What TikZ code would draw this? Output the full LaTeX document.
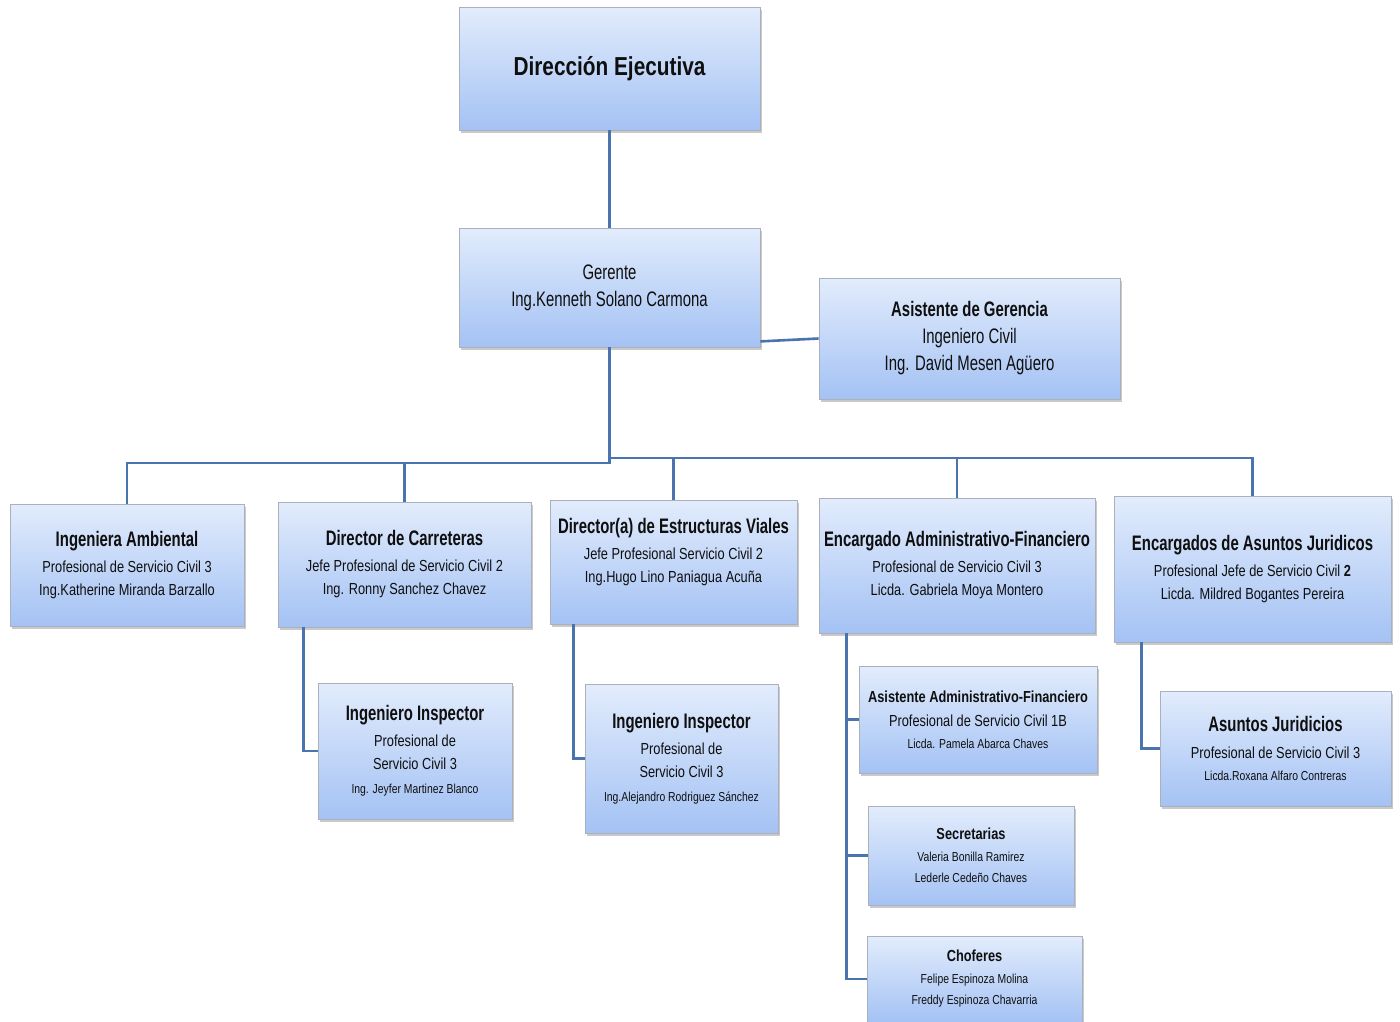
\documentclass[tikz,border=0pt]{standalone}
\usepackage{fontspec}
\setmainfont{Liberation Sans}[FakeStretch=0.8]
\newfontfamily\OTcondA{Liberation Sans}[FakeStretch=0.71]
\newfontfamily\OTcondB{Liberation Sans}[FakeStretch=0.8]
\usetikzlibrary{shadows,calc}
\definecolor{conncol}{RGB}{74,116,172}
\definecolor{boxtop}{RGB}{226,236,252}
\definecolor{boxbot}{RGB}{164,194,244}
\definecolor{boxline}{RGB}{170,176,188}
\definecolor{txtcol}{RGB}{15,15,15}
\newcommand{\OTtitle}[1]{{\OTcondA\fontsize{21}{23}\selectfont\bfseries #1}}
\newcommand{\OTsmalltitle}[1]{{\OTcondB\fontsize{16}{23}\selectfont\bfseries #1}}
\newcommand{\OTbig}[1]{{\OTcondA\fontsize{21}{23}\selectfont #1}}
\newcommand{\OTsub}[1]{{\OTcondB\fontsize{16}{23}\selectfont #1}}
\newcommand{\OTname}[1]{{\OTcondB\fontsize{13}{23}\selectfont #1}}
\tikzset{
  orgbox/.style={rectangle, inner sep=0pt, top color=boxtop, bottom color=boxbot,
    draw=boxline, line width=0.8pt, align=center, text=txtcol,
    font=\fontsize{16}{23}\selectfont,
    drop shadow={shadow xshift=2pt, shadow yshift=-3pt, opacity=0.35, fill=black!60}},
  conn/.style={draw=conncol, line width=2.6pt}
}
\begin{document}
\begin{tikzpicture}[x=1pt,y=-1pt]
\useasboundingbox (0,0) rectangle (1400,1021);
\fill[white] (0,0) rectangle (1400,1021);

\node[orgbox, minimum width=301pt, minimum height=123pt] (dir) at (609.5,68.5)
  {{\fontsize{26}{30}\selectfont\bfseries Dirección Ejecutiva}};
\node[orgbox, minimum width=301pt, minimum height=119pt] (ger) at (609.5,287.5)
  {\OTbig{Gerente}\\[4pt]\OTbig{Ing.Kenneth Solano Carmona}};
\node[orgbox, minimum width=301pt, minimum height=121pt] (asg) at (969.5,338.5)
  {\OTtitle{Asistente de Gerencia}\\[4pt]\OTbig{Ingeniero Civil}\\[4pt]\OTbig{Ing. David Mesen Agüero}};

\node[orgbox, minimum width=234pt, minimum height=122pt] (amb) at (127,565)
  {\OTtitle{Ingeniera Ambiental}\\[3pt]\OTsub{Profesional de Servicio Civil 3}\\\OTsub{Ing.Katherine Miranda Barzallo}};
\node[orgbox, minimum width=253pt, minimum height=125pt] (car) at (404.5,564.5)
  {\OTtitle{Director de Carreteras}\\[3pt]\OTsub{Jefe Profesional de Servicio Civil 2}\\\OTsub{Ing. Ronny Sanchez Chavez}};
\node[orgbox, minimum width=247pt, minimum height=124pt] (est) at (673.5,562)
  {\OTtitle{Director(a) de Estructuras Viales}\\[3pt]\OTsub{Jefe Profesional Servicio Civil 2}\\\OTsub{Ing.Hugo Lino Paniagua Acuña}\\[0pt]\rule{0pt}{14pt}};
\node[orgbox, minimum width=276pt, minimum height=135pt] (enc) at (957,565.5)
  {\OTtitle{Encargado Administrativo-Financiero}\\[3pt]\OTsub{Profesional de Servicio Civil 3}\\\OTsub{Licda. Gabriela Moya Montero}};
\node[orgbox, minimum width=277pt, minimum height=146pt] (jur) at (1252.5,569)
  {\OTtitle{Encargados de Asuntos Juridicos}\\[3pt]\OTsub{Profesional Jefe de Servicio Civil \textbf{2}}\\\OTsub{Licda. Mildred Bogantes Pereira}};

\node[orgbox, minimum width=194pt, minimum height=136pt] (in1) at (415,751)
  {\OTtitle{Ingeniero Inspector}\\[3pt]\OTsub{Profesional de}\\\OTsub{Servicio Civil 3}\\[1pt]\OTname{Ing. Jeyfer Martinez Blanco}};
\node[orgbox, minimum width=193pt, minimum height=149pt] (in2) at (681.5,758.5)
  {\OTtitle{Ingeniero Inspector}\\[3pt]\OTsub{Profesional de}\\\OTsub{Servicio Civil 3}\\[1pt]\OTname{Ing.Alejandro Rodriguez Sánchez}};
\node[orgbox, minimum width=238pt, minimum height=107pt] (asa) at (978,719.5)
  {\OTsmalltitle{Asistente Administrativo-Financiero}\\[1pt]\OTsub{Profesional de Servicio Civil 1B}\\[-1pt]\OTname{Licda. Pamela Abarca Chaves}};
\node[orgbox, minimum width=231pt, minimum height=115pt] (aj) at (1275.5,748.5)
  {\OTtitle{Asuntos Juridicios}\\[4pt]\OTsub{Profesional de Servicio Civil 3}\\[-1pt]\OTname{Licda.Roxana Alfaro Contreras}};
\node[orgbox, minimum width=206pt, minimum height=99pt] (sec) at (971,855.5)
  {\OTsmalltitle{Secretarias}\\[-1pt]\OTname{Valeria Bonilla Ramirez}\\[-2pt]\OTname{Lederle Cedeño Chaves}};
\node[orgbox, minimum width=215pt, minimum height=86pt] (cho) at (974.5,979)
  {\OTsmalltitle{Choferes}\\[-1pt]\OTname{Felipe Espinoza Molina}\\[-2pt]\OTname{Freddy Espinoza Chavarria}};

% connectors
\draw[conn] (dir.south) -- (ger.north);
\draw[conn] ($(ger.south east)+(0,-6)$) -- (asg.west);
\coordinate (hl) at (0,463);
\coordinate (hr) at (0,458);
\draw[conn] (ger.south) -- (ger.south |- hl) -- (amb.north |- hl) -- (amb.north);
\draw[conn] (car.north) -- (car.north |- hl);
\draw[conn] (ger.south |- hr) -- (jur.north |- hr) -- (jur.north);
\draw[conn] (est.north) -- (est.north |- hr);
\draw[conn] (enc.north) -- (enc.north |- hr);

\coordinate (ca) at ($(car.south west)+(26,0)$);
\draw[conn] (ca) |- (in1.west);
\coordinate (ea) at ($(est.south west)+(24,0)$);
\draw[conn] (ea) |- (in2.west);
\coordinate (na) at ($(enc.south west)+(28,0)$);
\draw[conn] (na) |- (cho.west);
\draw[conn] (na |- asa.west) -- (asa.west);
\draw[conn] (na |- sec.west) -- (sec.west);
\coordinate (ja) at ($(jur.south west)+(28,0)$);
\draw[conn] (ja) |- (aj.west);
\end{tikzpicture}
\end{document}
